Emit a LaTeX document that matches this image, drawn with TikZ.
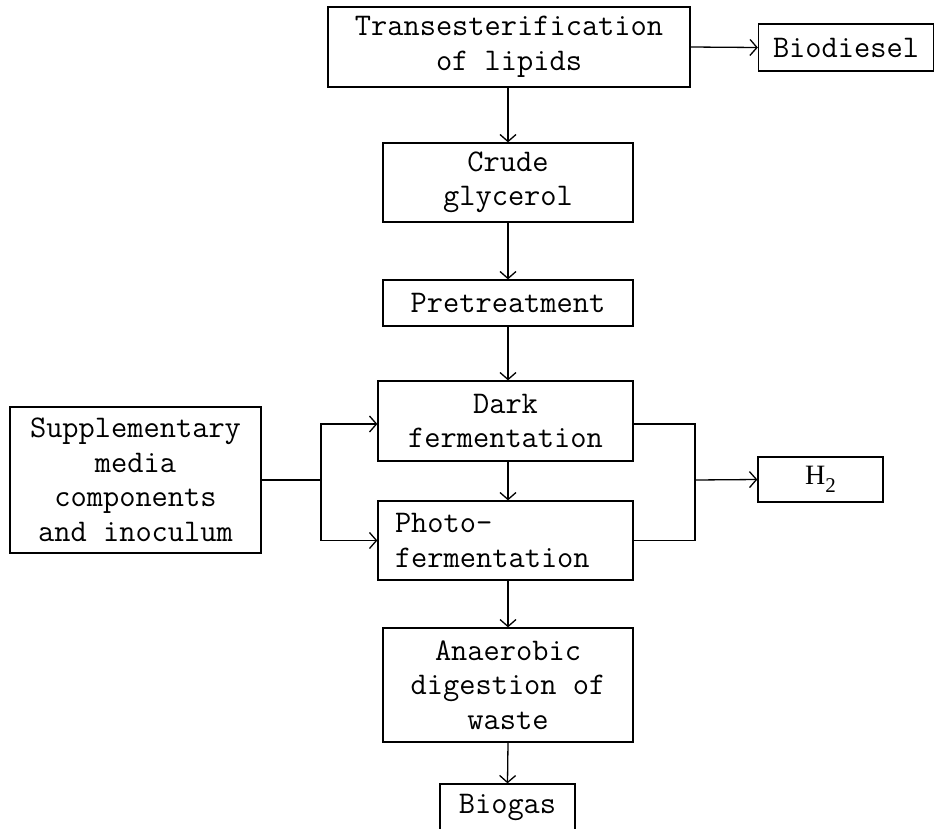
\documentclass[tikz,border=0pt]{standalone}
\usepackage{fontspec}
\newfontfamily\hfont{Liberation Serif}
\usetikzlibrary{arrows.meta}
\begin{document}
\begin{tikzpicture}[x=1pt,y=-1pt,
  box/.style={draw, line width=1.3pt, align=center, inner sep=0pt,
    font=\ttfamily\fontsize{31.5}{34.5}\selectfont},
  link/.style={line width=1.3pt, -{Straight Barb[length=7pt,width=16pt,line width=1.3pt]}},
  plain/.style={line width=1.3pt}]
\clip (0,0) rectangle (935,828);
\fill[white] (0,0) rectangle (935,828);
% main process chain
\node[box, minimum width=362pt, minimum height=80pt] (trans) at (509,47) {Transesterification\\of lipids};
\node[box, minimum width=175pt, minimum height=47pt] (bio) at (846,47.5) {Biodiesel};
\node[box, minimum width=250pt, minimum height=79pt] (crude) at (508,182.5) {Crude\\glycerol};
\node[box, minimum width=250pt, minimum height=46pt] (pre) at (508,303) {Pretreatment};
\node[box, minimum width=255pt, minimum height=80pt] (dark) at (505.5,421) {Dark\\fermentation};
\node[box, minimum width=255pt, minimum height=79pt, text width=221pt, align=left] (photo) at (505.5,540.5) {Photo-\\fermentation};
\node[box, minimum width=250pt, minimum height=114pt] (anaer) at (508,685) {Anaerobic\\digestion of\\waste};
\node[box, minimum width=135pt, minimum height=46pt] (gas) at (507.5,807) {Biogas};
% side inputs and outputs
\node[box, minimum width=251pt, minimum height=146pt] (supp) at (135.5,480) {Supplementary\\media\\components\\and inoculum};
\node[box, minimum width=125pt, minimum height=45pt, font=\hfont\fontsize{28}{34}\selectfont] (h2) at (820.5,479.5) {H\raisebox{-0.28em}{\fontsize{21}{21}\selectfont 2}};
% junction points
\coordinate (js) at (321,480);
\coordinate (jh) at (695,480);
% vertical flow
\draw[link] (trans.east) -- (bio.west);
\draw[link] (trans.south -| crude.north) -- (crude.north);
\draw[link] (crude) -- (pre);
\draw[link] (pre.south) -- (dark.north -| pre.south);
\draw[link] (dark.south -| crude.south) -- (photo.north -| crude.south);
\draw[link] (photo.south -| crude.south) -- (anaer.north);
\draw[link] (anaer.south) -- (gas.north);
% feed split
\draw[plain, line width=1.8pt] (supp.east |- js) -- (js);
\draw[link] (js) |- ([yshift=-3pt]dark.west);
\draw[link] (js) |- ([yshift=0pt]photo.west);
% hydrogen collection
\draw[plain] ([yshift=-3pt]dark.east) -| (jh) |- (photo.east);
\draw[link] (jh) -- (h2.west);
\end{tikzpicture}
\end{document}
